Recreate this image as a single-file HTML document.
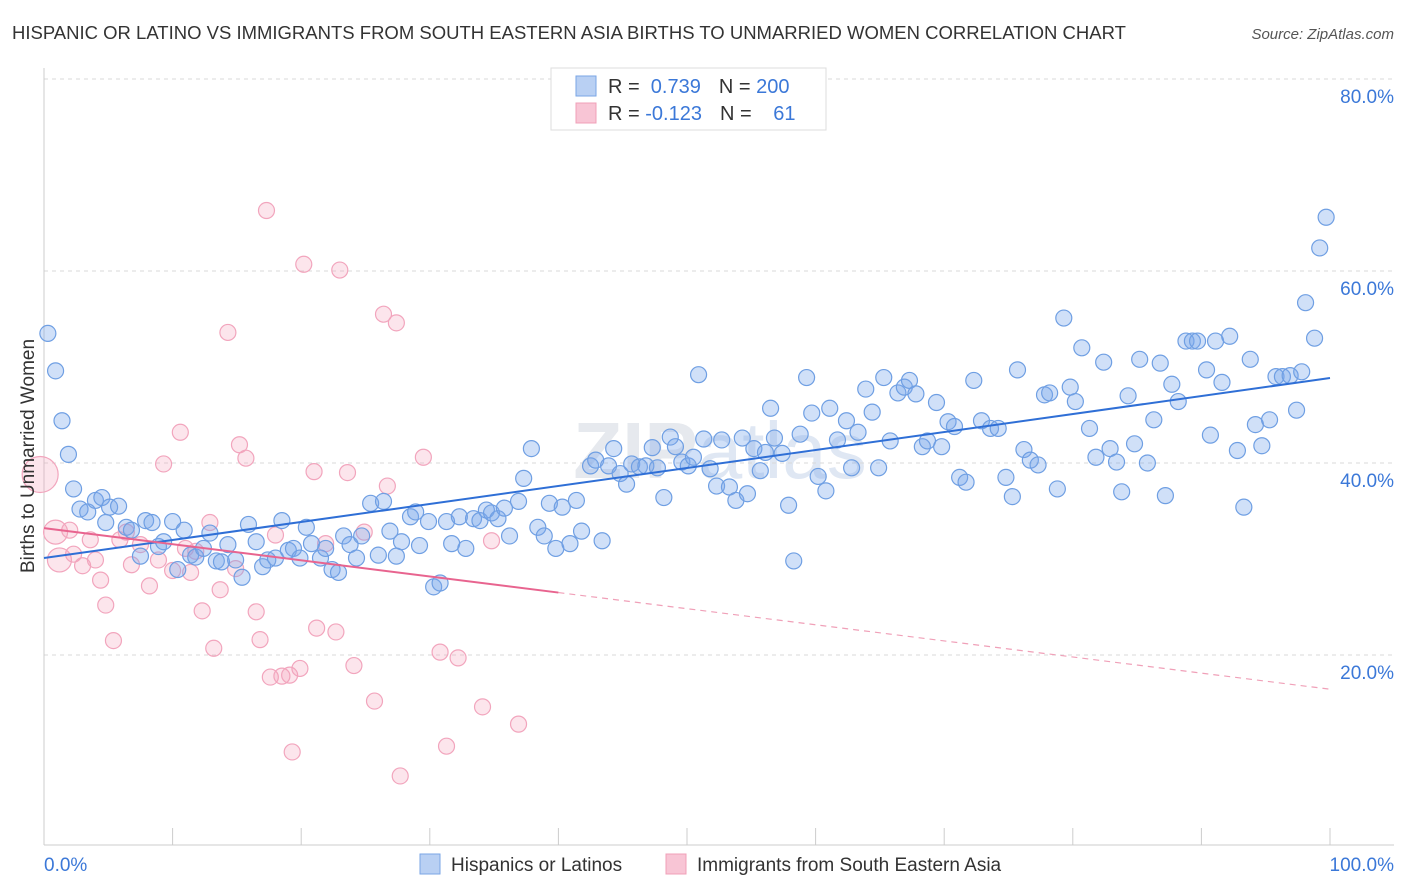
<!DOCTYPE html>
<html><head><meta charset="utf-8">
<style>
body{margin:0;background:#fff;font-family:"Liberation Sans",sans-serif;}
svg{display:block}
</style></head>
<body>
<svg id="chart" width="1406" height="892" viewBox="0 0 1406 892">
<text x="12" y="39" font-size="18.5" fill="#333">HISPANIC OR LATINO VS IMMIGRANTS FROM SOUTH EASTERN ASIA BIRTHS TO UNMARRIED WOMEN CORRELATION CHART</text>
<text x="1394" y="39" font-size="15" fill="#555" text-anchor="end" font-style="italic">Source: ZipAtlas.com</text>
<text x="720" y="478" font-size="80" fill="#e6e9ee" text-anchor="middle" font-weight="bold">ZIP<tspan font-weight="normal" fill="#dfe7f3">atlas</tspan></text>
<g id="grid"></g>
<g id="axes"></g>
<g id="pinkPts"></g>
<g id="bluePts"></g>
<g id="lines"></g>
<g>
<rect x="551" y="68" width="275" height="62" fill="#fff" stroke="#ddd"/>
<rect x="576" y="76" width="20" height="20" fill="#b9d0f3" stroke="#7aa6e6"/>
<rect x="576" y="103" width="20" height="20" fill="#f8c5d5" stroke="#f0a0b8"/>
<text x="608" y="93" font-size="20" fill="#333">R = <tspan fill="#3b78d8">&#160;0.739</tspan><tspan dx="18">N = </tspan><tspan fill="#3b78d8">200</tspan></text>
<text x="608" y="120" font-size="20" fill="#333">R = <tspan fill="#3b78d8">-0.123</tspan><tspan dx="18">N = </tspan><tspan fill="#3b78d8" dx="16">61</tspan></text>
</g>
<g>
<rect x="420" y="854" width="20" height="20" fill="#b9d0f3" stroke="#7aa6e6"/>
<text x="451" y="871" font-size="19" fill="#333">Hispanics or Latinos</text>
<rect x="666" y="854" width="20" height="20" fill="#f8c5d5" stroke="#f0a0b8"/>
<text x="697" y="871" font-size="19" fill="#333">Immigrants from South Eastern Asia</text>
</g>
<text x="44" y="871" font-size="19" fill="#3b78d8">0.0%</text>
<text x="1394" y="871" font-size="19" fill="#3b78d8" text-anchor="end">100.0%</text>
<text transform="translate(34,456) rotate(-90)" font-size="19" fill="#333" text-anchor="middle">Births to Unmarried Women</text>
</svg>
<script>
const yTicks=[20,40,60,80];
const yTickLabels=["20.0%","40.0%","60.0%","80.0%"];
const xTicks=[0,10,20,30,40,50,60,70,80,90,100];
const blueX=[0.3,0.9,1.4,1.9,2.3,2.8,3.4,4.0,4.5,5.1,5.8,4.8,6.4,6.8,7.5,7.9,8.4,8.9,9.3,10.0,10.4,10.9,11.4,11.8,12.4,12.9,13.4,13.8,14.3,14.9,15.4,15.9,16.5,17.0,17.4,18.0,18.5,19.0,19.4,19.9,20.4,20.8,21.5,21.9,22.4,22.9,23.3,23.8,24.3,24.7,25.4,26.0,26.4,26.9,27.4,27.8,28.5,28.9,29.2,29.9,30.3,30.8,31.3,31.7,32.3,32.8,33.4,33.9,34.4,34.8,35.3,35.8,36.2,36.9,37.3,37.9,38.4,38.9,39.3,39.8,40.3,40.9,41.4,41.8,42.5,42.9,43.4,43.9,44.3,44.8,45.3,45.7,46.3,46.8,47.3,47.7,48.2,48.7,49.1,49.6,50.1,50.5,50.9,51.3,51.8,52.3,52.7,53.3,53.8,54.3,54.7,55.2,55.7,56.1,56.5,56.8,57.4,57.9,58.3,58.8,59.3,59.7,60.2,60.8,61.1,61.7,62.4,62.8,63.3,63.9,64.4,64.9,65.3,65.8,66.4,66.9,67.3,67.8,68.3,68.7,69.4,69.8,70.3,70.8,71.2,71.7,72.3,72.9,73.6,74.2,74.8,75.3,75.7,76.2,76.7,77.3,77.8,78.2,78.8,79.3,79.8,80.2,80.7,81.3,81.8,82.4,82.9,83.4,83.8,84.3,84.8,85.2,85.8,86.3,86.8,87.2,87.7,88.2,88.8,89.3,89.7,90.4,90.7,91.1,91.6,92.2,92.8,93.3,93.8,94.2,94.7,95.3,95.8,96.3,96.9,97.4,97.8,98.1,98.8,99.2,99.7];
const blueY=[53.5,49.6,44.4,40.9,37.3,35.2,34.9,36.1,36.4,35.4,35.5,33.8,33.3,33.0,30.3,34.0,33.8,31.3,31.8,33.9,28.9,33.0,30.4,30.2,31.1,32.7,29.8,29.7,31.5,29.9,28.1,33.6,31.8,29.2,29.9,30.1,34.0,30.9,31.1,30.1,33.3,31.6,30.1,31.1,28.9,28.6,32.4,31.5,30.1,32.4,35.8,30.4,36.0,32.9,30.3,31.8,34.4,34.9,31.4,33.9,27.1,27.5,33.9,31.6,34.4,31.1,34.2,34.0,35.1,34.8,34.2,35.3,32.4,36.0,38.4,41.5,33.3,32.4,35.8,31.1,35.4,31.6,36.1,32.9,39.7,40.3,31.9,39.7,41.5,38.9,37.8,39.9,39.6,39.7,41.6,39.5,36.4,42.7,41.7,40.1,39.7,40.6,49.2,42.5,39.4,37.6,42.4,37.5,36.1,42.6,36.8,41.5,39.2,41.1,45.7,42.6,41.0,35.6,29.8,43.0,48.9,45.2,38.6,37.1,45.7,42.4,44.4,39.5,43.2,47.7,45.3,39.5,48.9,42.3,47.3,47.9,48.6,47.2,41.7,42.3,46.3,41.7,44.3,43.8,38.5,38.0,48.6,44.4,43.6,43.6,38.5,36.5,49.7,41.4,40.3,39.8,47.1,47.3,37.3,55.1,47.9,46.4,52.0,43.6,40.6,50.5,41.5,40.1,37.0,47.0,42.0,50.8,40.0,44.5,50.4,36.6,48.2,46.4,52.7,52.7,52.7,49.7,42.9,52.7,48.4,53.2,41.3,35.4,50.8,44.0,41.8,44.5,49.0,49.0,49.1,45.5,49.5,56.7,53.0,62.4,65.6];
const pinkX=[-0.3,0.9,1.2,2.0,2.3,3.0,3.6,4.0,4.4,4.8,5.4,5.9,6.4,6.8,7.5,8.2,8.9,9.3,10.0,10.6,11.0,11.4,11.8,12.3,12.9,13.2,13.7,14.3,14.9,15.2,15.7,16.5,16.8,17.3,17.6,18.0,18.5,19.1,19.9,20.2,21.0,21.2,21.9,22.7,23.0,23.6,24.1,24.9,25.7,26.4,26.7,27.4,27.7,29.5,30.8,31.3,32.2,34.1,34.8,36.9,19.3];
const pinkY=[38.8,32.8,29.9,33.0,30.5,29.3,32.0,29.9,27.8,25.2,21.5,32.0,32.8,29.4,31.5,27.2,29.9,39.9,28.8,43.2,31.1,28.6,30.8,24.6,33.8,20.7,26.8,53.6,29.0,41.9,40.5,24.5,21.6,66.3,17.7,32.5,17.8,17.9,18.6,60.7,39.1,22.8,31.6,22.4,60.1,39.0,18.9,32.8,15.2,55.5,37.6,54.6,7.4,40.6,20.3,10.5,19.7,14.6,31.9,12.8,9.9];
const pinkWeights=[3,2,2,1,1,1,1,1,1,1,1,1,1,1,1,1,1,1,1,1,1,1,1,1,1,1,1,1,1,1,1,1,1,1,1,1,1,1,1,1,1,1,1,1,1,1,1,1,1,1,1,1,1,1,1,1,1,1,1,1,1];

const NS="http://www.w3.org/2000/svg";
const X0=44,X1=1330,YB=847,PX=9.6;
const sx=v=>X0+(X1-X0)*v/100;
const sy=v=>YB-PX*v;
function mk(tag,attrs,parent){const e=document.createElementNS(NS,tag);for(const k in attrs)e.setAttribute(k,attrs[k]);parent.appendChild(e);return e;}
const grid=document.getElementById('grid');
yTicks.forEach((t,i)=>{
  const l=mk('line',{x1:X0,x2:1394,y1:sy(t),y2:sy(t),stroke:'#d8d8d8','stroke-dasharray':'4,4'},grid);
  
  
  const tx=mk('text',{x:1394,y:sy(t)+24,'font-size':19,fill:'#3b78d8','text-anchor':'end'},grid);
  tx.textContent=yTickLabels[i];
  
  
});
const axes=document.getElementById('axes');
const ya=mk('line',{x1:X0,x2:X0,y1:68,y2:845,stroke:'#ccc'},axes);


const xa=mk('line',{x1:X0,x2:1394,y1:845,y2:845,stroke:'#ccc'},axes);


xTicks.forEach(t=>{
  const l=mk('line',{x1:sx(t),x2:sx(t),y1:828,y2:845,stroke:'#ccc'},axes);
  
  
});
const bp=document.getElementById('bluePts'),pp=document.getElementById('pinkPts');
pinkX.forEach((x,i)=>{
  const r=pinkWeights[i]===3?18:pinkWeights[i]===2?12:8;
  const c=mk('circle',{cx:sx(x),cy:sy(pinkY[i]),r:r,fill:'rgba(244,160,188,0.28)',stroke:'#f2a5bd','stroke-width':1.2},pp);
  
  
});
blueX.forEach((x,i)=>{
  const c=mk('circle',{cx:sx(x),cy:sy(blueY[i]),r:8,fill:'rgba(120,165,235,0.35)',stroke:'#6f9fe3','stroke-width':1.2},bp);
  
  
});
function fit(xs,ys){const n=xs.length;let mx=0,my=0;xs.forEach((x,i)=>{mx+=x;my+=ys[i];});mx/=n;my/=n;let sxy=0,sxx=0;xs.forEach((x,i)=>{sxy+=(x-mx)*(ys[i]-my);sxx+=(x-mx)*(x-mx);});const b=sxy/sxx;return [my-b*mx,b];}
const lines=document.getElementById('lines');
const [ba,bb]=fit(blueX,blueY);
const bl=mk('line',{x1:sx(0),y1:sy(ba),x2:sx(100),y2:sy(ba+bb*100),stroke:'#2f6fd6','stroke-width':2},lines);


const [pa,pb]=fit(pinkX,pinkY);
const xm=40;
const pl=mk('line',{x1:sx(0),y1:sy(pa),x2:sx(xm),y2:sy(pa+pb*xm),stroke:'#e8648f','stroke-width':2},lines);


const pd=mk('line',{x1:sx(xm),y1:sy(pa+pb*xm),x2:sx(100),y2:sy(pa+pb*100),stroke:'#f0a0b8','stroke-width':1.2,'stroke-dasharray':'6,5'},lines);


</script>
</body></html>
